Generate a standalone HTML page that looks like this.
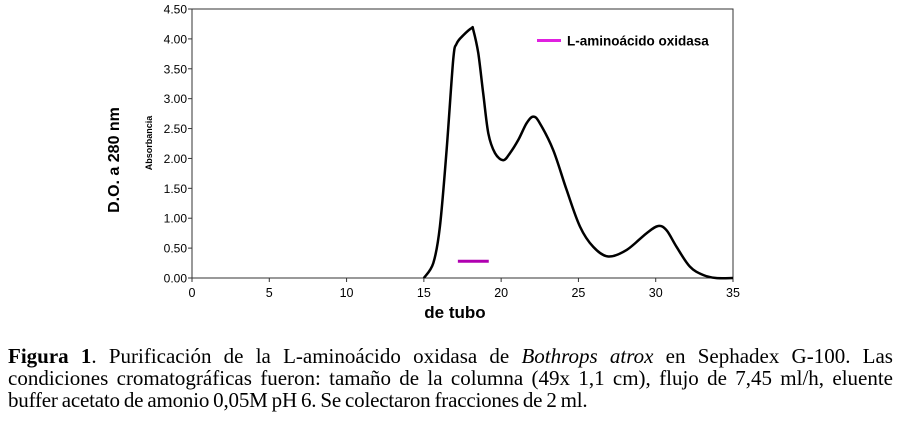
<!DOCTYPE html>
<html><head><meta charset="utf-8">
<style>
body{margin:0;width:900px;height:423px;background:#fff;overflow:hidden;position:relative;font-family:"Liberation Sans",sans-serif}
svg{position:absolute;left:0;top:0}
.cap{position:absolute;left:8px;width:885px;font-family:"Liberation Serif",serif;font-size:21px;line-height:22px;color:#000;white-space:nowrap}
.j{text-align:justify;text-align-last:justify}
</style></head><body>
<svg width="900" height="330" id="chart"></svg>
<div class="cap j" style="top:345px"><b>Figura 1</b>. Purificación de la L-aminoácido oxidasa de <i>Bothrops atrox</i> en Sephadex G-100. Las</div>
<div class="cap j" style="top:367px">condiciones cromatográficas fueron: tamaño de la columna (49x 1,1 cm), flujo de 7,45 ml/h, eluente</div>
<div class="cap" style="top:389px;word-spacing:-1px;letter-spacing:-0.2px">buffer acetato de amonio 0,05M pH 6. Se colectaron fracciones de 2 ml.</div>
<script>
const xTicks=[0,5,10,15,20,25,30,35];
const yTicks=["0.00","0.50","1.00","1.50","2.00","2.50","3.00","3.50","4.00","4.50"];
const tubeX=[15,15.61,16.04,16.47,16.9,17.12,17.55,18.09,18.2,18.52,18.84,19.17,19.6,20.14,20.57,21.11,21.65,22.08,22.5,23.37,24.24,25.1,25.96,26.93,28.12,29.41,30.16,30.7,31.35,32.21,33.07,33.9,35];
const absY=[0,0.25,0.86,2.14,3.65,3.92,4.06,4.18,4.15,3.76,3.09,2.42,2.09,1.97,2.09,2.31,2.59,2.7,2.59,2.14,1.47,0.86,0.52,0.36,0.47,0.75,0.87,0.8,0.52,0.19,0.05,0,0];
const laoX=[17.2,19.2];
const laoY=[0.28,0.28];
const L=192,R=733,T=9,B=278,XMAX=35,YMAX=4.5;
const sx=v=>L+(R-L)*v/XMAX, sy=v=>B-(B-T)*v/YMAX;
const svg=document.getElementById('chart');const NS='http://www.w3.org/2000/svg';
function mk(t,a){const e=document.createElementNS(NS,t);for(const k in a)e.setAttribute(k,a[k]);svg.appendChild(e);return e;}
const frame=mk('rect',{x:L,y:T,width:R-L,height:B-T,fill:'none',stroke:'#333','stroke-width':1});


xTicks.forEach(v=>{
 const l=mk('line',{x1:sx(v),x2:sx(v),y1:B,y2:B+4,stroke:'#333'});
 
 
 const t=mk('text',{x:sx(v),y:B+19,'text-anchor':'middle','font-size':12.5,fill:'#000'});t.textContent=v;
 
 
});
yTicks.forEach(s=>{const v=parseFloat(s);
 const l=mk('line',{x1:L-4,x2:L,y1:sy(v),y2:sy(v),stroke:'#333'});
 
 
 const t=mk('text',{x:L-5,y:sy(v)+4.5,'text-anchor':'end','font-size':12,fill:'#000'});t.textContent=s;
 
 
});
const P=tubeX.map((x,i)=>[sx(x),sy(absY[i])]);
let d='M'+P[0][0].toFixed(1)+','+P[0][1].toFixed(1);
for(let i=0;i<P.length-1;i++){
 const p0=P[Math.max(0,i-1)],p1=P[i],p2=P[i+1],p3=P[Math.min(P.length-1,i+2)];
 const c1=[p1[0]+(p2[0]-p0[0])/6,p1[1]+(p2[1]-p0[1])/6];
 const c2=[p2[0]-(p3[0]-p1[0])/6,p2[1]-(p3[1]-p1[1])/6];
 d+='C'+c1[0].toFixed(1)+','+c1[1].toFixed(1)+' '+c2[0].toFixed(1)+','+c2[1].toFixed(1)+' '+p2[0].toFixed(1)+','+p2[1].toFixed(1);
}
const p=mk('path',{d:d,fill:'none',stroke:'#000','stroke-width':2.5,'stroke-linejoin':'round'});


const lao=mk('line',{x1:sx(laoX[0]),x2:sx(laoX[1]),y1:sy(laoY[0]),y2:sy(laoY[1]),stroke:'#b000b0','stroke-width':3});


const lg=mk('line',{x1:537,x2:561,y1:40.5,y2:40.5,stroke:'#e020e0','stroke-width':3});


const lt=mk('text',{x:567,y:45.5,'font-size':13.5,'font-weight':'bold',fill:'#000'});lt.textContent='L-aminoácido oxidasa';


const yt=mk('text',{x:0,y:0,'font-size':16,'font-weight':'bold',fill:'#000','text-anchor':'middle',transform:'translate(119,160) rotate(-90)'});yt.textContent='D.O. a 280 nm';


const ys=mk('text',{x:0,y:0,'font-size':9,'font-weight':'bold',fill:'#000','text-anchor':'middle',transform:'translate(152,143) rotate(-90)'});ys.textContent='Absorbancia';


const xt=mk('text',{x:455,y:318,'font-size':17,'font-weight':'bold',fill:'#000','text-anchor':'middle'});xt.textContent='de tubo';


</script>
</body></html>
